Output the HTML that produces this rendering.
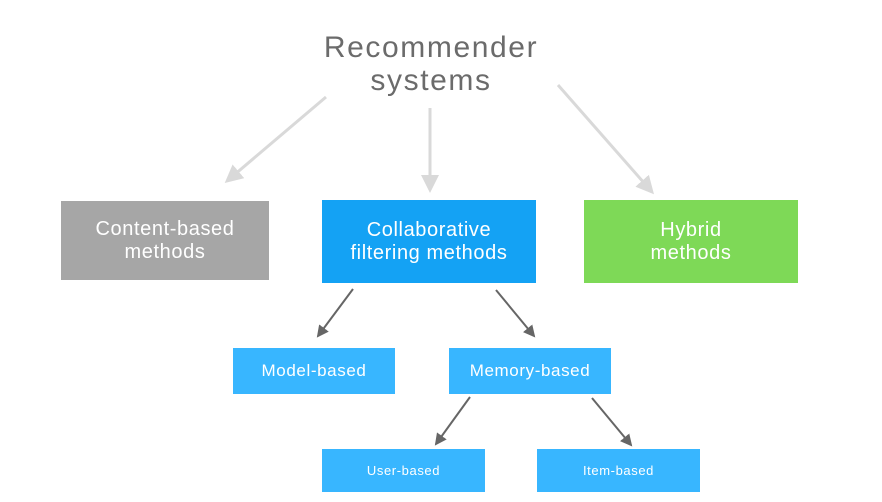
<!DOCTYPE html>
<html><head><style>
body{margin:0;width:882px;height:502px;background:#fff;position:relative;overflow:hidden;font-family:"Liberation Sans",sans-serif}
.b{position:absolute;color:#fff;display:flex;align-items:center;justify-content:center;text-align:center;letter-spacing:0.6px}
.t{position:absolute;left:231px;width:400px;text-align:center;color:#6b6b6b;font-size:30px;line-height:33px;top:31px;letter-spacing:1.6px}
</style></head><body>
<div class="t">Recommender<br>systems</div>
<div class="b" style="left:61px;top:201px;width:208px;height:79px;background:#a6a6a6;font-size:20px;line-height:23px">Content-based<br>methods</div>
<div class="b" style="left:322px;top:200px;width:214px;height:83px;background:#14a2f4;font-size:20px;line-height:23px">Collaborative<br>filtering methods</div>
<div class="b" style="left:584px;top:200px;width:214px;height:83px;background:#7ed957;font-size:20px;line-height:23px">Hybrid<br>methods</div>
<div class="b" style="left:233px;top:348px;width:162px;height:46px;background:#38b6ff;font-size:17px">Model-based</div>
<div class="b" style="left:449px;top:348px;width:162px;height:46px;background:#38b6ff;font-size:17px">Memory-based</div>
<div class="b" style="left:322px;top:449px;width:163px;height:43px;background:#38b6ff;font-size:13px">User-based</div>
<div class="b" style="left:537px;top:449px;width:163px;height:43px;background:#38b6ff;font-size:13px">Item-based</div>
<svg width="882" height="502" style="position:absolute;left:0;top:0">
<defs>
<marker id="l" markerWidth="6" markerHeight="6" refX="5" refY="3" orient="auto" markerUnits="strokeWidth"><path d="M0,0L6,3L0,6z" fill="#d9d9d9"/></marker>
<marker id="d" markerWidth="6" markerHeight="6" refX="5" refY="3" orient="auto" markerUnits="strokeWidth"><path d="M0,0L6,3L0,6z" fill="#666"/></marker>
</defs>
<g stroke="#d9d9d9" stroke-width="3" marker-end="url(#l)">
<line x1="326" y1="97" x2="227" y2="181"/>
<line x1="430" y1="108" x2="430" y2="190"/>
<line x1="558" y1="85" x2="652" y2="192"/>
</g>
<g stroke="#666" stroke-width="2" marker-end="url(#d)">
<line x1="353" y1="289" x2="318" y2="336"/>
<line x1="496" y1="290" x2="534" y2="336"/>
<line x1="470" y1="397" x2="436" y2="444"/>
<line x1="592" y1="398" x2="631" y2="445"/>
</g>
</svg>
</body></html>
